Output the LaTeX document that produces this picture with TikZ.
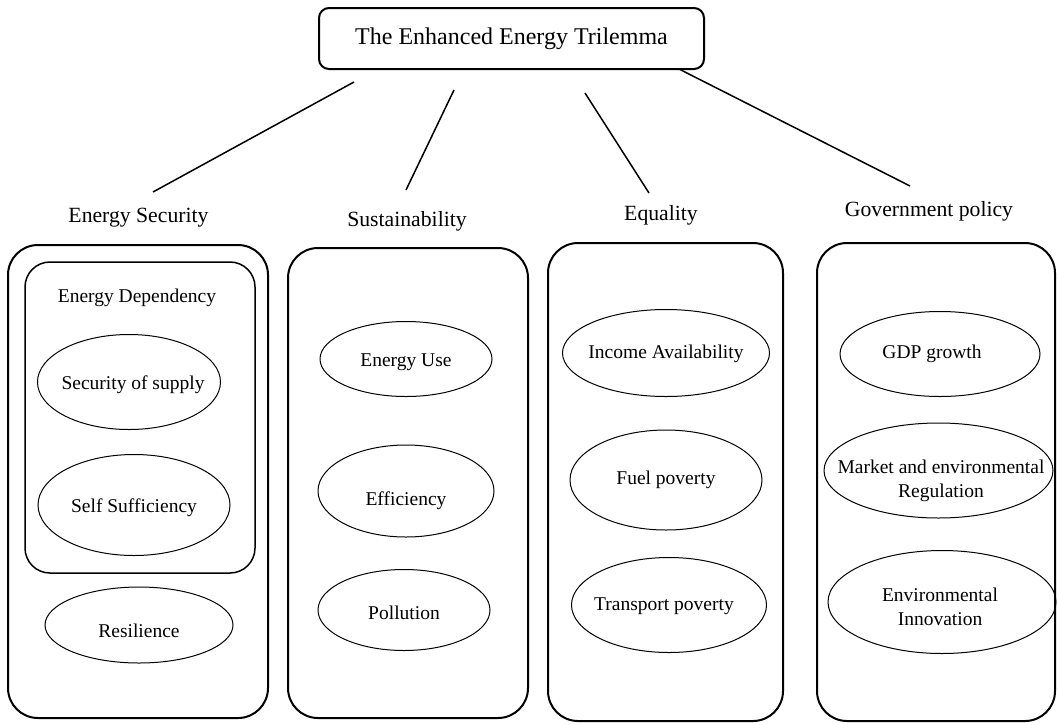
\documentclass[tikz,border=0pt]{standalone}
\usepackage{fontspec}
\setmainfont{Liberation Serif}
\usetikzlibrary{shapes.geometric}

\tikzset{
  group/.style={draw, line width=2pt, rounded corners=30pt, inner sep=0pt},
  oval/.style={draw, ellipse, line width=1pt, inner sep=0pt},
  txt/.style={align=center, inner sep=0pt, yshift=-3pt, font=\fontsize{19.5}{24}\selectfont},
  head/.style={inner sep=0pt, yshift=-3pt, font=\fontsize{21.7}{26}\selectfont},
}

\begin{document}
\begin{tikzpicture}[x=1pt, y=-1pt]
  \useasboundingbox (0,0) rectangle (1057,724);

  % title and its four branches
  \node[draw, line width=2pt, rounded corners=10pt, minimum width=385pt, minimum height=61pt,
        font=\fontsize{24}{28}\selectfont] (title) at (511.5,38.5) {The Enhanced Energy Trilemma};
  \coordinate (b1) at (354,82);  \coordinate (e1) at (153,192);
  \coordinate (b2) at (454,90);  \coordinate (e2) at (406,190);
  \coordinate (b3) at (585,93);  \coordinate (e3) at (649,193);
  \coordinate (b4) at (679,69);  \coordinate (e4) at (910,186);
  \draw[line width=1.5pt] (b1) -- (e1);
  \draw[line width=1.5pt] (b2) -- (e2);
  \draw[line width=1.5pt] (b3) -- (e3);
  \draw[line width=1.5pt] (b4) -- (e4);

  \node[head] (hsec) at (138.5,215) {Energy Security};
  \node[head] (hsus) at (407,218) {Sustainability};
  \node[head] (hequ) at (661,212) {Equality};
  \node[head] (hgov) at (929,208) {Government policy};

  % columns
  \node[group, minimum width=260pt, minimum height=473pt] (gsec) at (138,481.5) {};
  \node[group, minimum width=240pt, minimum height=470pt] (gsus) at (408,483) {};
  \node[group, minimum width=235pt, minimum height=478pt] (gequ) at (665.5,482) {};
  \node[group, minimum width=238pt, minimum height=478pt] (ggov) at (936,482) {};

  % energy security
  \node[draw, line width=1.5pt, rounded corners=25pt, minimum width=230pt, minimum height=311pt] (gdep) at (140,417.5) {};
  \node[txt] (dep) at (137,295) {Energy Dependency};
  \node[oval, minimum width=183pt, minimum height=95pt] (sup) at (129,382) {};
  \node[txt] (sup-t) at (133,382) {Security of supply};
  \node[oval, minimum width=192pt, minimum height=101pt] (suf) at (134,505) {};
  \node[txt] (suf-t) at (134,505) {Self Sufficiency};
  \node[oval, minimum width=188pt, minimum height=76pt] (res) at (139,625) {};
  \node[txt] (res-t) at (139,628) {Resilience};

  % sustainability
  \node[oval, minimum width=172pt, minimum height=75pt] (use) at (406,359) {};
  \node[txt] (use-t) at (406,359) {Energy Use};
  \node[oval, minimum width=176pt, minimum height=92pt] (eff) at (406,491) {};
  \node[txt] (eff-t) at (406,498) {Efficiency};
  \node[oval, minimum width=172pt, minimum height=81pt] (pol) at (404,610) {};
  \node[txt] (pol-t) at (404,610) {Pollution};

  % equality
  \node[oval, minimum width=207pt, minimum height=87pt] (inc) at (666,353) {};
  \node[txt] (inc-t) at (666,351) {Income Availability};
  \node[oval, minimum width=192pt, minimum height=100pt] (fuel) at (666,480) {};
  \node[txt] (fuel-t) at (666,477) {Fuel poverty};
  \node[oval, minimum width=195pt, minimum height=95pt] (trn) at (669,605) {};
  \node[txt] (trn-t) at (664,603) {Transport poverty};

  % government policy
  \node[oval, minimum width=200pt, minimum height=85pt] (gdp) at (940,354) {};
  \node[txt] (gdp-t) at (932,351) {GDP growth};
  \node[oval, minimum width=229pt, minimum height=95pt] (reg) at (938.5,470.5) {};
  \node[txt] (reg-t) at (941,478) {Market and environmental\\Regulation};
  \node[oval, minimum width=228pt, minimum height=103pt] (inn) at (942,602) {};
  \node[txt] (inn-t) at (940,604) {Environmental\\Innovation};
\end{tikzpicture}
\end{document}
